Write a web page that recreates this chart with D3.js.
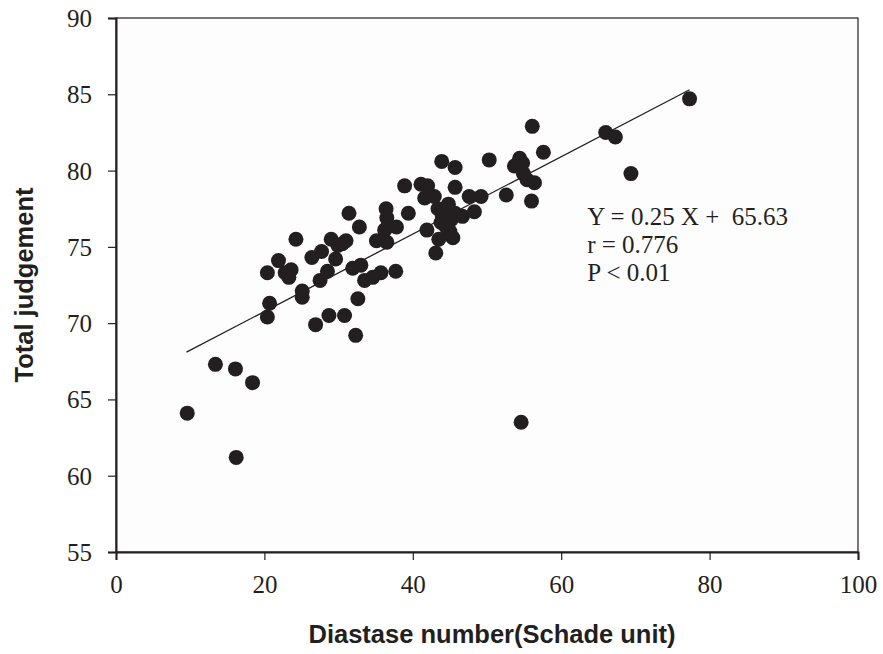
<!DOCTYPE html>
<html>
<head>
<meta charset="utf-8">
<script src="https://cdn.jsdelivr.net/npm/d3@7"></script>
<style>
    body { margin: 0; background: #fff; }
</style>
</head>
<body>
<div id="chart"></div>
<script>
// diastase number (Schade unit)
const diastase = [
    9.6, 13.4, 16.1, 18.4, 16.2, 20.4, 20.7, 20.4, 21.9, 22.8,
    23.6, 23.3, 24.25, 25.1, 25.1, 26.4, 26.9, 27.5, 27.7, 28.5,
    28.7, 29.0, 29.6, 29.9, 30.5, 30.8, 31.0, 31.4, 31.9, 32.3,
    32.6, 32.8, 33.0, 33.5, 34.6, 35.1, 35.7, 36.2, 36.4, 36.5,
    36.5, 36.6, 37.7, 37.8, 38.9, 39.4, 41.1, 41.6, 41.9, 42.0,
    42.9, 43.1, 43.4, 43.5, 43.9, 44.0, 44.5, 44.5, 45.2, 45.4,
    45.7, 45.7, 45.7, 46.7, 47.6, 48.3, 49.2, 50.3, 52.6, 53.7,
    54.4, 54.8, 54.9, 55.4, 56.0, 56.1, 56.4, 57.6, 54.6, 66.0,
    67.3, 69.4, 77.3, 44.8, 45.0, 43.8
];
// total judgement score
const judgement = [
    64.1, 67.3, 67.0, 66.1, 61.2, 70.4, 71.3, 73.3, 74.1, 73.3,
    73.5, 73.0, 75.5, 72.1, 71.7, 74.3, 69.9, 72.8, 74.7, 73.4,
    70.5, 75.5, 74.2, 75.1, 75.2, 70.5, 75.4, 77.2, 73.6, 69.2,
    71.6, 76.3, 73.8, 72.8, 73.0, 75.4, 73.3, 76.1, 77.5, 76.9,
    75.3, 76.3, 73.4, 76.3, 79.0, 77.2, 79.1, 78.2, 76.1, 79.0,
    78.3, 74.6, 77.5, 75.5, 80.6, 77.0, 77.4, 76.3, 76.8, 75.6,
    80.2, 78.9, 77.2, 77.0, 78.3, 77.3, 78.3, 80.7, 78.4, 80.3,
    80.8, 80.5, 79.8, 79.4, 78.0, 82.9, 79.2, 81.2, 63.5, 82.5,
    82.2, 79.8, 84.7, 77.8, 76.0, 76.6
];
// regression line end points
const fitX = [9.5, 77.3];
const fitY = [68.1, 85.3];

const xTicks = [0, 20, 40, 60, 80, 100];
const yTicks = [55, 60, 65, 70, 75, 80, 85, 90];
const statLines = ["Y = 0.25 X +  65.63", "r = 0.776", "P < 0.01"];

const width = 883, height = 654;
const margin = {top: 18, right: 25, bottom: 102, left: 116};
const innerW = width - margin.left - margin.right;
const innerH = height - margin.top - margin.bottom;

const serif = "'Liberation Serif', 'Times New Roman', serif";
const sans = "'Liberation Sans', Arial, sans-serif";
const ink = "#231f20";

const svg = d3.select("#chart").append("svg")
    .attr("width", width)
    .attr("height", height);

const g = svg.append("g")
    .attr("transform", "translate(" + margin.left + "," + margin.top + ")");

const x = d3.scaleLinear().domain([0, 100]).range([0, innerW]);
const y = d3.scaleLinear().domain([55, 90]).range([innerH, 0]);

// frame
g.append("rect")
    .attr("width", innerW)
    .attr("height", innerH)
    .attr("fill", "#fdfdfd")
    .attr("stroke", ink)
    .attr("stroke-width", 1.2);

// axes
const xAxis = d3.axisBottom(x).tickValues(xTicks).tickSize(8);
const yAxis = d3.axisLeft(y).tickValues(yTicks).tickSize(8).tickPadding(16);

const gx = g.append("g")
    .attr("transform", "translate(0," + innerH + ")")
    .call(xAxis);
const gy = g.append("g").call(yAxis);

[gx, gy].forEach(a => {
    a.attr("font-family", null).attr("font-size", null);
    a.select(".domain").attr("stroke", ink).attr("stroke-width", 2);
    a.selectAll(".tick line").attr("stroke", ink).attr("stroke-width", 1.2);
    a.selectAll(".tick text")
        .attr("fill", ink)
        .style("font-family", serif)
        .style("font-size", "25px");
});
gx.selectAll(".tick text").attr("y", 41).attr("dy", 0);
gy.selectAll(".tick text").attr("dy", "0.34em");

// regression line
const line = d3.line().x(d => x(d[0])).y(d => y(d[1]));
g.append("path")
    .datum(d3.zip(fitX, fitY))
    .attr("d", line)
    .attr("fill", "none")
    .attr("stroke", ink)
    .attr("stroke-width", 1.3);

// points
g.selectAll("circle.pt")
    .data(d3.zip(diastase, judgement))
    .join("circle")
    .attr("class", "pt")
    .attr("cx", d => x(d[0]))
    .attr("cy", d => y(d[1]))
    .attr("r", 7.5)
    .attr("fill", ink);

// statistics text
g.append("g")
    .selectAll("text")
    .data(statLines)
    .join("text")
    .attr("x", x(63.5))
    .attr("y", (d, i) => y(76.45) + i * 28)
    .attr("fill", ink)
    .style("font-family", serif)
    .style("font-size", "25px")
    .style("white-space", "pre")
    .text(d => d);

// axis titles
svg.append("text")
    .attr("x", margin.left + innerW / 2 + 5)
    .attr("y", 643)
    .attr("text-anchor", "middle")
    .attr("fill", ink)
    .style("font-family", sans)
    .style("font-weight", "bold")
    .style("font-size", "25.5px")
    .text("Diastase number(Schade unit)");

svg.append("text")
    .attr("transform", "translate(33," + (margin.top + innerH / 2) + ") rotate(-90)")
    .attr("text-anchor", "middle")
    .attr("fill", ink)
    .style("font-family", sans)
    .style("font-weight", "bold")
    .style("font-size", "25.5px")
    .text("Total judgement");
</script>
</body>
</html>
